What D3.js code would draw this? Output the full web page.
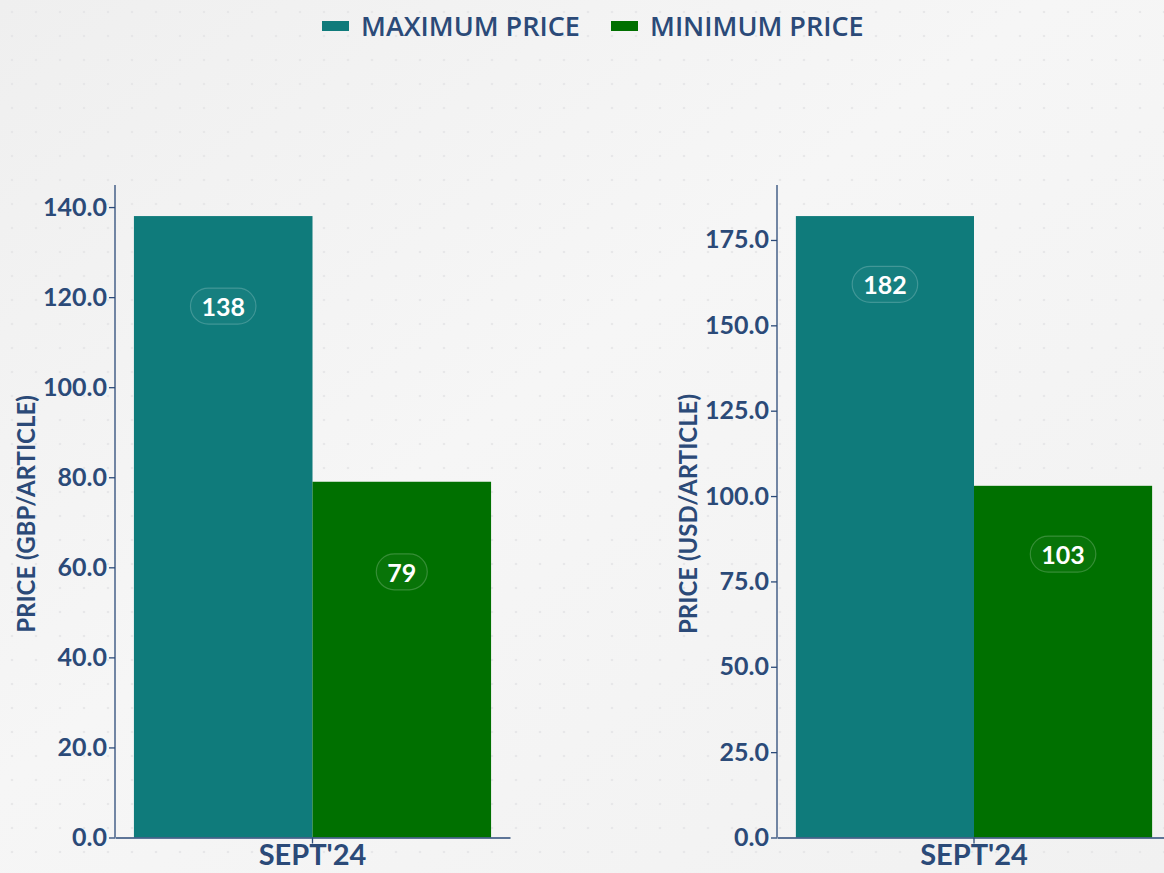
<!DOCTYPE html>
<html>
<head>
<meta charset="utf-8">
<script src="https://cdn.jsdelivr.net/npm/d3@7"></script>
<style>
  body { margin: 0; background: #f2f2f2; }
  svg { display: block; }
</style>
</head>
<body>
<div id="chart"></div>
<script>
// data
var categories = ["SEPT'24"];
var seriesNames = ["MAXIMUM PRICE", "MINIMUM PRICE"];
var seriesColors = ["#0f7b7b", "#007000"];
var gbpValues = [138, 79];
var usdValues = [182, 103];
var gbpTicks = [0, 20, 40, 60, 80, 100, 120, 140];
var usdTicks = [0, 25, 50, 75, 100, 125, 150, 175];

var W = 1164, H = 873;
var textColor = "#2b4a78";

var svg = d3.select("#chart").append("svg")
    .attr("width", W)
    .attr("height", H);

// background with soft diagonal light + dot pattern
var defs = svg.append("defs");
var grad = defs.append("linearGradient").attr("id", "bg")
    .attr("x1", "0").attr("y1", "0").attr("x2", "1").attr("y2", "1");
grad.append("stop").attr("offset", "0").attr("stop-color", "#efefef");
grad.append("stop").attr("offset", "0.45").attr("stop-color", "#f6f6f6");
grad.append("stop").attr("offset", "1").attr("stop-color", "#f1f1f1");
var pat = defs.append("pattern").attr("id", "dots")
    .attr("width", 24).attr("height", 24).attr("patternUnits", "userSpaceOnUse");
pat.append("circle").attr("cx", 12).attr("cy", 12).attr("r", 1.3).attr("fill", "#e4e4e6");

svg.append("rect").attr("width", W).attr("height", H).attr("fill", "url(#bg)");
svg.append("rect").attr("width", W).attr("height", H).attr("fill", "url(#dots)").attr("opacity", 0.8);

// legend
var legendX = [322, 611];
seriesNames.forEach(function(name, i) {
  var g = svg.append("g").attr("transform", "translate(" + legendX[i] + ",0)");
  g.append("rect").attr("x", 0).attr("y", 21).attr("width", 27).attr("height", 10)
      .attr("fill", seriesColors[i]);
  g.append("text").attr("x", 39).attr("y", 25)
      .attr("dominant-baseline", "central")
      .style("font-family", "'Open Sans', sans-serif")
      .style("font-weight", 600)
      .style("font-size", "27px")
      .style("fill", textColor)
      .text(name);
});

function drawPanel(opts) {
  var values = opts.values;
  var y = d3.scaleLinear()
    .domain([0, d3.max(values) * 1.05])
    .range([837.5, 185]);
  var x0 = d3.scaleBand()
    .domain(categories)
    .range([opts.left, opts.right])
    .paddingOuter(0.053)
    .paddingInner(0);
  var x1 = d3.scaleBand()
    .domain(seriesNames)
    .range([0, x0.bandwidth()]);

  var g = svg.append("g");

  // bars
  g.selectAll("rect.bar")
    .data(values)
    .enter()
    .append("rect")
      .attr("class", "bar")
      .attr("x", function(d, i) { return x0(categories[0]) + x1(seriesNames[i]); })
      .attr("y", function(d) { return y(d); })
      .attr("width", x1.bandwidth())
      .attr("height", function(d) { return y(0) - y(d); })
      .attr("fill", function(d, i) { return seriesColors[i]; });

  // value labels with pill
  var lab = g.selectAll("g.lab")
    .data(values)
    .enter()
    .append("g")
      .attr("class", "lab")
      .attr("transform", function(d, i) {
        return "translate(" + (x0(categories[0]) + x1(seriesNames[i]) + x1.bandwidth() / 2) + "," + y(d - 20) + ")";
      });
  lab.append("text")
      .attr("text-anchor", "middle")
      .attr("dominant-baseline", "central")
      .style("font-family", "Lato, sans-serif")
      .style("font-weight", 700)
      .style("font-size", "25px")
      .style("fill", "#ffffff")
      .text(function(d) { return d; });
  lab.insert("rect", "text")
      .each(function() {
        var tw = this.parentNode.querySelector("text").getComputedTextLength();
        var w = Math.max(tw + 22, 40);
        d3.select(this)
          .attr("x", -w / 2).attr("y", -18)
          .attr("width", w).attr("height", 36)
          .attr("rx", 18)
          .attr("fill", "rgba(255,255,255,0.03)")
          .attr("stroke", "rgba(255,255,255,0.2)")
          .attr("stroke-width", 1.2);
      });

  // y axis
  var yAxis = g.append("g")
    .attr("transform", "translate(" + opts.left + ",0)")
    .call(d3.axisLeft(y).tickValues(opts.ticks).tickFormat(d3.format(".1f")).tickSize(6).tickSizeOuter(0));
  yAxis.select(".domain").attr("d", "M0,185V" + y(0)).attr("stroke", textColor).attr("stroke-width", 1.3);
  yAxis.selectAll(".tick line").attr("stroke", textColor).attr("stroke-width", 1.3);
  yAxis.selectAll(".tick text")
      .attr("x", -8)
      .style("font-family", "Lato, sans-serif")
      .style("font-weight", 700)
      .style("font-size", "25px")
      .style("fill", textColor);

  // x axis
  var xAxis = g.append("g")
    .attr("transform", "translate(0," + y(0) + ")")
    .call(d3.axisBottom(x0).tickSize(6).tickSizeOuter(0));
  xAxis.select(".domain").attr("stroke", textColor).attr("stroke-width", 1.3);
  xAxis.selectAll(".tick line").attr("stroke", textColor).attr("stroke-width", 1.3);
  xAxis.selectAll(".tick text")
      .attr("y", 7)
      .style("font-family", "Lato, sans-serif")
      .style("font-weight", 700)
      .style("font-size", "29px")
      .style("fill", textColor);

  // axis title
  g.append("text")
    .attr("text-anchor", "middle")
    .attr("transform", "translate(" + opts.titleX + ",514)rotate(-90)")
    .attr("dominant-baseline", "central")
    .style("font-family", "Lato, sans-serif")
    .style("font-weight", 700)
    .style("font-size", "24px")
    .style("fill", textColor)
    .text(opts.title);
}

drawPanel({ values: gbpValues, ticks: gbpTicks, left: 115, right: 510, titleX: 25, title: "PRICE (GBP/ARTICLE)" });
drawPanel({ values: usdValues, ticks: usdTicks, left: 777, right: 1171, titleX: 687, title: "PRICE (USD/ARTICLE)" });
</script>
</body>
</html>
